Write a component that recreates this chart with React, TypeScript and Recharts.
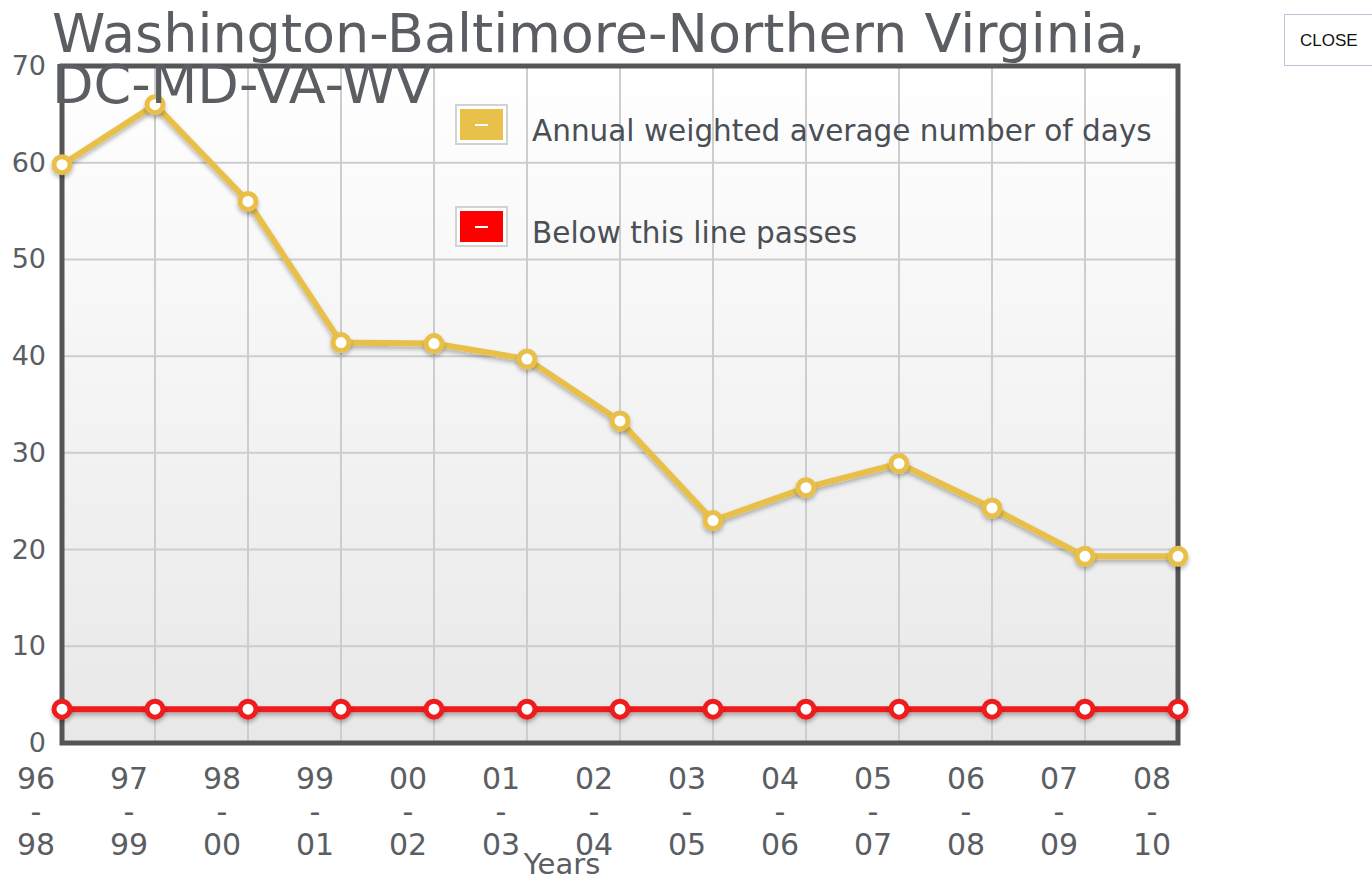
import {
  CartesianGrid,
  Legend,
  Line,
  LineChart,
  ReferenceArea,
  XAxis,
  YAxis,
} from "recharts";

const startYears = ["96", "97", "98", "99", "00", "01", "02", "03", "04", "05", "06", "07", "08"];
const endYears = ["98", "99", "00", "01", "02", "03", "04", "05", "06", "07", "08", "09", "10"];
const avgDays = [59.8, 66.0, 56.0, 41.4, 41.3, 39.7, 33.3, 23.0, 26.4, 28.9, 24.3, 19.3, 19.3];
const passLine = [3.5, 3.5, 3.5, 3.5, 3.5, 3.5, 3.5, 3.5, 3.5, 3.5, 3.5, 3.5, 3.5];
const yTicks = [0, 10, 20, 30, 40, 50, 60, 70];

const seriesNames = ["Annual weighted average number of days", "Below this line passes"];
const GOLD = "#e8c04a";
const RED = "#ee1c1c";
const TEXT = "#5a5e63";
const FONT = "'DejaVu Sans', Verdana, sans-serif";

const data = startYears.map((s, i) => ({
  period: `${s}-${endYears[i]}`,
  avg: avgDays[i],
  pass: passLine[i],
}));

function XTick({ x, y, payload }: any) {
  const [a, b] = String(payload.value).split("-");
  const cx = x - 26;
  return (
    <text textAnchor="middle" fill={TEXT} fontSize={30} fontFamily={FONT}>
      <tspan x={cx} y={y + 38}>{a}</tspan>
      <tspan x={cx} y={y + 71}>-</tspan>
      <tspan x={cx} y={y + 104}>{b}</tspan>
    </text>
  );
}

function YTick({ x, y, payload }: any) {
  return (
    <text x={x - 8} y={y + 9} textAnchor="end" fill={TEXT} fontSize={27} fontFamily={FONT}>
      {payload.value}
    </text>
  );
}

function LegendBox({ color, label }: { color: string; label: string }) {
  return (
    <div style={{ display: "flex", alignItems: "center", height: 41, marginBottom: 61 }}>
      <div
        style={{
          width: 49,
          height: 37,
          flex: "none",
          border: "2px solid #d2d2d2",
          background: "#fff",
          display: "flex",
          alignItems: "center",
          justifyContent: "center",
        }}
      >
        <div
          style={{
            width: 43,
            height: 31,
            background: color,
            display: "flex",
            alignItems: "center",
            justifyContent: "center",
          }}
        >
          <div style={{ width: 13, height: 2, background: "#fff" }} />
        </div>
      </div>
      <span
        style={{
          marginLeft: 24,
          fontSize: 29.5,
          color: "#4a4f55",
          fontFamily: FONT,
          whiteSpace: "nowrap",
          position: "relative",
          top: 6,
        }}
      >
        {label}
      </span>
    </div>
  );
}

function LegendContent() {
  return (
    <div>
      <LegendBox color={GOLD} label={seriesNames[0]} />
      <LegendBox color="#ff0000" label={seriesNames[1]} />
    </div>
  );
}

export default function App() {
  return (
    <div style={{ position: "absolute", left: 0, top: 0, width: 1372, height: 882, background: "#fff" }}>
      <LineChart
        width={1372}
        height={882}
        data={data}
        margin={{ top: 66, right: 194, left: 0, bottom: 0 }}
      >
        <defs>
          <linearGradient id="plotBg" x1="0" y1="0" x2="0" y2="1">
            <stop offset="0%" stopColor="#ffffff" />
            <stop offset="100%" stopColor="#e8e8e8" />
          </linearGradient>
          <filter id="lineShadow" filterUnits="userSpaceOnUse" x="0" y="0" width="1372" height="882">
            <feDropShadow dx="0" dy="3" stdDeviation="2" floodColor="#000" floodOpacity="0.28" />
          </filter>
        </defs>
        <CartesianGrid fill="url(#plotBg)" stroke="#cdcdcd" strokeWidth={2} />
        <XAxis
          dataKey="period"
          interval={0}
          height={139}
          axisLine={false}
          tickLine={false}
          tick={<XTick />}
          label={{
            value: "Years",
            position: "insideBottom",
            offset: 8,
            dx: -58,
            fill: TEXT,
            fontSize: 29,
            fontFamily: FONT,
          }}
        />
        <YAxis
          width={62}
          domain={[0, 70]}
          ticks={yTicks}
          axisLine={false}
          tickLine={false}
          tick={<YTick />}
        />
        <ReferenceArea
          x1={data[0].period}
          x2={data[data.length - 1].period}
          y1={0}
          y2={70}
          fill="none"
          fillOpacity={0}
          stroke="#555555"
          strokeWidth={5}
          strokeOpacity={1}
        />
        <Legend
          layout="horizontal"
          verticalAlign="middle"
          align="center"
          content={<LegendContent />}
          wrapperStyle={{ position: "absolute", left: 455, top: 104, width: 800 }}
        />
        <Line
          dataKey="pass"
          stroke={RED}
          strokeWidth={6}
          filter="url(#lineShadow)"
          dot={{ r: 8, fill: "#fff", stroke: RED, strokeWidth: 5 }}
          isAnimationActive={false}
        />
        <Line
          dataKey="avg"
          stroke={GOLD}
          strokeWidth={6}
          filter="url(#lineShadow)"
          dot={{ r: 8, fill: "#fff", stroke: GOLD, strokeWidth: 5 }}
          isAnimationActive={false}
        />
      </LineChart>
      <div
        style={{
          position: "absolute",
          left: 52,
          top: 8,
          fontFamily: FONT,
          fontSize: 54,
          lineHeight: "51px",
          color: TEXT,
          pointerEvents: "none",
          whiteSpace: "nowrap",
        }}
      >
        Washington-Baltimore-Northern Virginia,
        <br />
        DC-MD-VA-WV
      </div>
      <div
        style={{
          position: "absolute",
          left: 1284,
          top: 14,
          width: 100,
          height: 52,
          border: "1px solid #b9c5d9",
          background: "#fff",
          fontFamily: "'Liberation Sans', Arial, sans-serif",
          fontSize: 17,
          lineHeight: "52px",
          paddingLeft: 15,
          boxSizing: "border-box",
          color: "#111",
        }}
      >
        CLOSE
      </div>
    </div>
  );
}
